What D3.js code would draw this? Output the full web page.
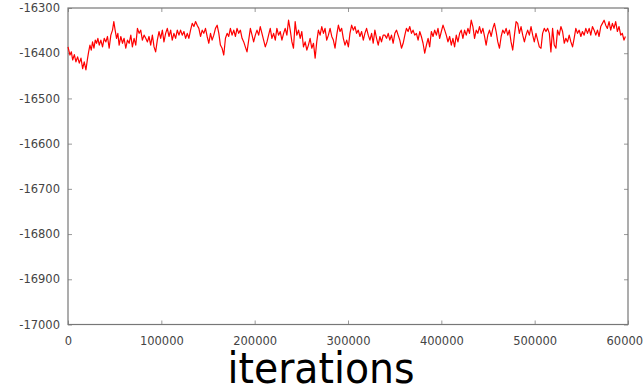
<!DOCTYPE html>
<html>
<head>
<meta charset="utf-8">
<script src="https://cdn.jsdelivr.net/npm/d3@7"></script>
<style>
  html, body { margin: 0; padding: 0; background: #fff; }
  svg { display: block; }
</style>
</head>
<body>
<div id="chart"></div>
<script>
const iterations = [
  0, 2100, 3600, 5000, 6800, 8500, 10300, 12100, 13900, 15700, 17400, 19200, 21000,
  22100, 23500, 24900, 26300, 27800, 29200, 30600, 32000, 33500, 35200, 37000, 38800,
  40600, 42300, 44100, 45900, 47700, 49100, 50500, 52000, 53400, 54800, 56600, 58400,
  60100, 61900, 63700, 65500, 67300, 69000, 70800, 72600, 74400, 76200, 77900, 79700, 81500,
  83300, 85100, 86800, 88600, 90400, 92200, 93900, 95700, 97500, 99300, 101100, 102800,
  104600, 106400, 108200, 110000, 111700, 113500, 115300, 117100, 118900, 120600, 122400,
  124200, 126000, 127800, 129500, 131300, 133100, 134900, 136700, 138400, 140200, 142000,
  143800, 145500, 147300, 149100, 150900, 152700, 154400, 156200, 158000, 159800, 161600,
  163300, 165100, 166900,
  168700, 170500, 172200, 174000, 175800, 177600, 179400, 181100, 182900, 184700, 186500,
  188300, 190000, 191800, 193600, 195400, 197200, 198900, 200700, 202500, 204300, 206000,
  207800, 209600, 211400, 213200, 214900, 216700, 218500, 220300, 222100, 223800, 225600,
  227400, 229200, 231000, 232700, 234500, 236300, 238100, 239900, 241600, 243400, 245200,
  247000, 248800, 250500, 252300,
  254100, 255900, 257600, 259400, 261200, 263000, 264800, 266500, 268300, 270100, 271900,
  273700, 275400, 277200, 279000, 280800, 282600, 284300, 286100, 287900, 289700, 291500,
  293200, 295000, 296800, 298600, 300400, 302100, 303900, 305700, 307500, 309200, 311000,
  312800, 314600, 316400, 318100, 319900, 321700, 323500, 325300, 327000, 328800, 330600,
  332400, 334200, 335900, 337700,
  339500, 341300, 343100, 344800, 346600, 348400, 350200, 352000, 353700, 355500, 357300,
  359100, 360900, 362600, 364400, 366200, 368000, 369700, 371500, 373300, 375100, 376900,
  378600, 380400, 382200, 384000, 385800, 387500, 389300, 391100, 392900, 394700, 396400,
  398200, 400000, 401800, 403600, 405300, 407100, 408900, 410700, 412400, 414200, 416000,
  417800, 419600, 421300, 423100,
  424900, 426700, 428500, 430200, 432000, 433800, 435600, 437400, 439100, 440900, 442700,
  444500, 446300, 448000, 449800, 451600, 453400, 455200, 456900, 458700, 460500, 462300,
  464100, 465800, 467600, 469400, 471200, 472900, 474700, 476500, 478300, 480100, 481800,
  483600, 485400, 487200, 489000, 490700, 492500, 494300, 496100, 497900, 499600, 501400,
  503200, 505000, 506800, 508500,
  510300, 512100, 513900, 515700, 517400, 519200, 521000, 522800, 524500, 526300, 528100,
  529900, 531700, 533400, 535200, 537000, 538800, 540600, 542300, 544100, 545900, 547700,
  549500, 551200, 553000, 554800, 556600, 558400, 560100, 561900, 563700, 565500, 567300,
  569000, 570800, 572600, 574400, 576100, 577900, 579700, 581500, 583300, 585000, 586800,
  588600, 590400, 592200, 593900, 595700, 597200
];

const logLik = [
  -16386, -16404, -16397, -16415, -16403, -16419, -16408, -16422, -16411, -16434, -16419, -16437, -16411,
  -16397, -16382, -16393, -16375, -16389, -16371, -16378, -16367, -16382, -16371, -16386, -16367,
  -16375, -16363, -16389, -16360, -16349, -16330, -16349, -16367, -16356, -16382, -16363, -16378,
  -16367, -16389, -16371, -16378, -16360, -16386, -16367, -16382, -16345, -16356, -16349, -16371, -16360,
  -16367, -16375, -16363, -16382, -16360, -16386, -16397, -16371, -16352, -16367, -16349, -16375,
  -16356, -16345, -16363, -16349, -16371, -16356, -16367, -16349, -16360, -16349, -16360,
  -16352, -16367, -16356, -16367, -16349, -16334, -16341, -16330, -16338, -16345, -16363,
  -16349, -16356, -16345, -16363, -16378, -16356, -16371, -16360, -16345, -16338, -16356,
  -16382, -16389, -16404,
  -16367, -16356, -16363, -16345, -16360, -16349, -16363, -16345, -16356, -16349, -16367,
  -16375, -16386, -16397, -16371, -16345, -16360, -16375, -16360, -16349, -16360, -16341,
  -16356, -16371, -16386, -16375, -16360, -16345, -16367, -16356, -16371, -16345, -16360,
  -16352, -16371, -16356, -16345, -16360, -16327, -16349, -16375, -16389, -16330, -16360,
  -16349, -16367, -16352, -16386,
  -16375, -16393, -16382, -16367, -16389, -16378, -16411, -16375, -16349, -16360, -16341,
  -16356, -16345, -16371, -16360, -16345, -16363, -16371, -16389, -16360, -16338, -16352,
  -16345, -16367, -16382, -16371, -16386, -16356, -16338, -16349, -16341, -16356, -16349,
  -16363, -16352, -16371, -16356, -16345, -16360, -16371, -16356, -16378, -16349, -16367,
  -16382, -16363, -16375, -16360,
  -16360, -16367, -16356, -16371, -16360, -16378, -16356, -16349, -16360, -16371, -16389,
  -16378, -16360, -16345, -16352, -16341, -16356, -16349, -16360, -16356, -16371, -16352,
  -16363, -16378, -16400, -16382, -16367, -16386, -16352, -16363, -16349, -16360, -16345,
  -16367, -16352, -16338, -16349, -16360, -16375, -16363, -16382, -16367, -16386, -16360,
  -16375, -16356, -16349, -16367,
  -16349, -16360, -16345, -16356, -16327, -16341, -16367, -16349, -16356, -16341, -16356,
  -16345, -16363, -16382, -16360, -16349, -16363, -16345, -16334, -16352, -16375, -16389,
  -16363, -16349, -16356, -16345, -16360, -16349, -16375, -16393, -16360, -16330, -16334,
  -16356, -16341, -16360, -16375, -16360, -16349, -16360, -16341, -16360, -16375, -16356,
  -16371, -16386, -16389, -16356,
  -16345, -16352, -16345, -16356, -16397, -16345, -16382, -16389, -16349, -16360, -16341,
  -16352, -16378, -16367, -16375, -16360, -16375, -16386, -16367, -16345, -16356, -16349,
  -16363, -16352, -16360, -16345, -16356, -16345, -16360, -16341, -16349, -16360, -16349,
  -16363, -16341, -16334, -16327, -16338, -16345, -16330, -16349, -16334, -16345, -16330,
  -16352, -16341, -16360, -16356, -16371, -16363
];

const xTicks = [0, 100000, 200000, 300000, 400000, 500000, 600000];
const yTicks = [-17000, -16900, -16800, -16700, -16600, -16500, -16400, -16300];
const xLabel = 'iterations';

const width = 643, height = 388;
const plot = { left: 68, right: 628, top: 8, bottom: 324.5 };

const svg = d3.select('#chart').append('svg')
  .attr('width', width)
  .attr('height', height);

const x = d3.scaleLinear().domain([0, 600000]).range([plot.left, plot.right]);
const y = d3.scaleLinear().domain([-17000, -16300]).range([plot.bottom, plot.top]);

const points = iterations.map((it, i) => ({ it, v: logLik[i] }));

// plain hyphen minus like the original, not the unicode one d3.format gives
const plain = d => String(d);

// inward tick marks on all four sides
function styleAxis(g) {
  g.select('.domain').remove();
  g.selectAll('.tick line').attr('stroke', '#999');
  g.selectAll('.tick text')
    .attr('fill', '#444')
    .attr('font-family', 'DejaVu Sans, Verdana, sans-serif')
    .attr('font-size', '11.5px');
}

svg.append('g')
  .attr('transform', `translate(${plot.left},0)`)
  .call(d3.axisLeft(y).tickValues(yTicks).tickFormat(plain).tickSizeInner(-4).tickSizeOuter(0).tickPadding(8))
  .call(styleAxis);

svg.append('g')
  .attr('transform', `translate(${plot.right},0)`)
  .call(d3.axisRight(y).tickValues(yTicks).tickFormat('').tickSizeInner(-4).tickSizeOuter(0))
  .call(styleAxis);

svg.append('g')
  .attr('transform', `translate(0,${plot.bottom})`)
  .call(d3.axisBottom(x).tickValues(xTicks).tickFormat(plain).tickSizeInner(-4).tickSizeOuter(0).tickPadding(12))
  .call(styleAxis);

svg.append('g')
  .attr('transform', `translate(0,${plot.top})`)
  .call(d3.axisTop(x).tickValues(xTicks).tickFormat('').tickSizeInner(-4).tickSizeOuter(0))
  .call(styleAxis);

// frame
svg.append('rect')
  .attr('x', plot.left)
  .attr('y', plot.top)
  .attr('width', plot.right - plot.left)
  .attr('height', plot.bottom - plot.top)
  .attr('fill', 'none')
  .attr('stroke', '#777')
  .attr('stroke-width', 1.2);

const line = d3.line()
  .x(d => x(d.it))
  .y(d => y(d.v));

svg.append('path')
  .datum(points)
  .attr('d', line)
  .attr('fill', 'none')
  .attr('stroke', '#ff0000')
  .attr('stroke-width', 1.2)
  .attr('stroke-linejoin', 'round');

svg.append('text')
  .attr('x', 321)
  .attr('y', 383)
  .attr('text-anchor', 'middle')
  .attr('font-family', '"Comic Sans MS", "DejaVu Sans", sans-serif')
  .attr('font-size', '42px')
  .attr('fill', '#000')
  .attr('textLength', 187)
  .attr('lengthAdjust', 'spacingAndGlyphs')
  .text(xLabel);
</script>
</body>
</html>
